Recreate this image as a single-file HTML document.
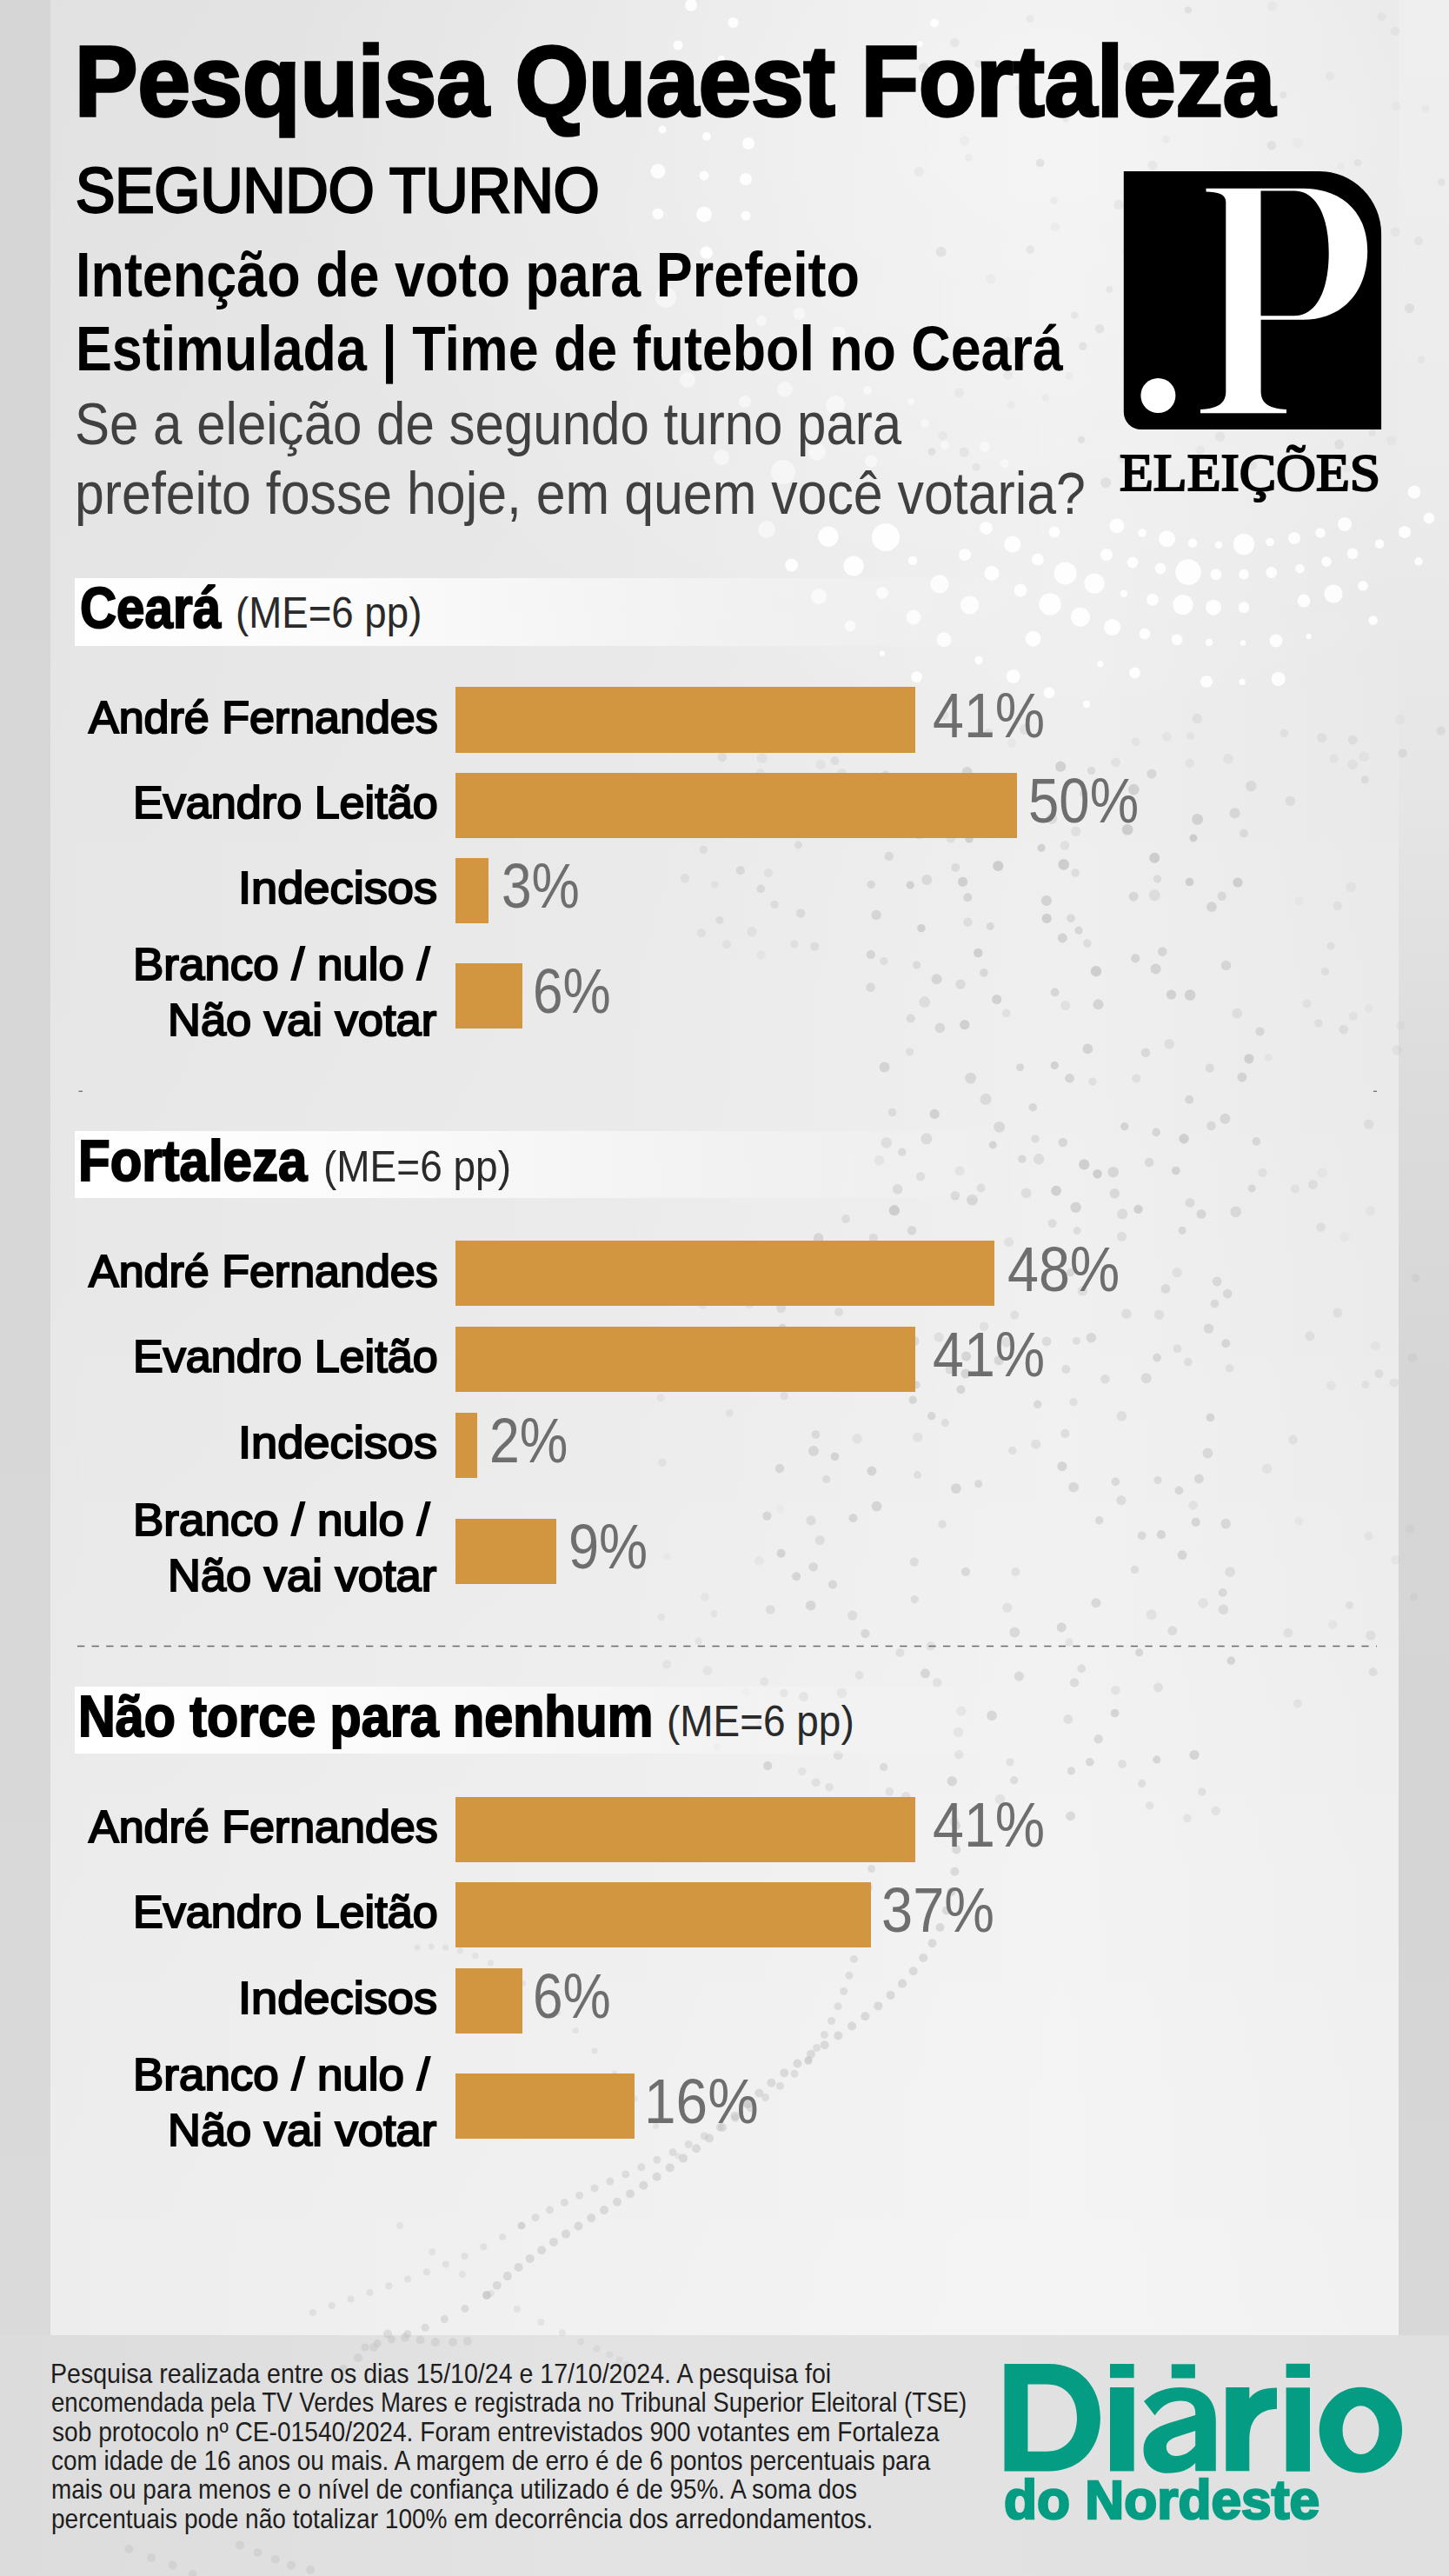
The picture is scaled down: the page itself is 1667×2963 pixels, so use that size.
<!DOCTYPE html>
<html><head><meta charset="utf-8"><style>
*{margin:0;padding:0;box-sizing:border-box}
html,body{width:1667px;height:2963px;overflow:hidden}
body{position:relative;background:#dedede;font-family:"Liberation Sans",sans-serif}
.t{position:absolute;white-space:nowrap;transform-origin:0 0}
.bg-l{position:absolute;left:0;top:0;width:58px;height:2963px;background:linear-gradient(180deg,#d6d6d6 0px,#d7d7d7 1500px,#dadada 2686px)}
.bg-r{position:absolute;left:1609px;top:0;width:58px;height:2963px;background:linear-gradient(180deg,#efefef 0px,#ececec 500px,#e6e6e6 900px,#dcdcdc 1250px,#d6d6d6 1600px,#d5d5d5 2200px,#d8d8d8 2686px)}
.bg-f{position:absolute;left:0;top:2686px;width:1667px;height:277px;background:linear-gradient(90deg,#dcdcdc,#e3e3e3 40%,#e0e0e0)}
.panel{position:absolute;left:58px;top:0;width:1551px;height:2686px;background:linear-gradient(180deg,#e5e5e5 0%,#e9e9e9 30%,#ebebeb 55%,#efefef 80%,#f1f1f1 100%)}
.panel2{position:absolute;left:58px;top:0;width:1551px;height:2686px;background:radial-gradient(ellipse 900px 700px at 1150px 150px,rgba(255,255,255,0.45),rgba(255,255,255,0) 100%),linear-gradient(90deg,rgba(0,0,0,0.015) 0%,rgba(255,255,255,0) 40%,rgba(255,255,255,0.25) 75%,rgba(255,255,255,0) 100%)}
.hbox{position:absolute;left:86px;width:1100px;background:linear-gradient(90deg,#fff 0%,#fbfbfb 30%,rgba(245,245,245,.6) 70%,rgba(240,240,240,0) 100%)}
.abs{position:absolute}
.bar{position:absolute;left:523.5px;background:#d1963f}
</style></head><body>
<div class="bg-l"></div><div class="bg-r"></div><div class="bg-f"></div>
<div class="panel"></div><div class="panel2"></div>
<svg class="abs" width="1667" height="2963" style="left:0;top:0"><g fill="#c4c4c4"><circle cx="1145.7" cy="958.4" r="5.8" fill-opacity="0.38"/><circle cx="1241.1" cy="1070.2" r="4.6" fill-opacity="0.58"/><circle cx="1016.9" cy="1105.5" r="4.6" fill-opacity="0.39"/><circle cx="1191.0" cy="1310.0" r="4.7" fill-opacity="0.45"/><circle cx="1282.3" cy="1372.8" r="5.7" fill-opacity="0.53"/><circle cx="1439.3" cy="904.2" r="6.2" fill-opacity="0.48"/><circle cx="1064.9" cy="941.3" r="5.1" fill-opacity="0.72"/><circle cx="1081.3" cy="1182.4" r="5.8" fill-opacity="0.52"/><circle cx="1246.5" cy="912.7" r="4.6" fill-opacity="0.44"/><circle cx="1306.2" cy="1102.3" r="5.1" fill-opacity="0.61"/><circle cx="1203.9" cy="1035.9" r="6.1" fill-opacity="0.66"/><circle cx="1109.8" cy="1178.7" r="5.6" fill-opacity="0.74"/><circle cx="1328.3" cy="1029.7" r="6.5" fill-opacity="0.40"/><circle cx="1188.2" cy="1273.7" r="4.8" fill-opacity="0.57"/><circle cx="1017.6" cy="1227.5" r="6.0" fill-opacity="0.61"/><circle cx="1394.0" cy="1043.1" r="5.9" fill-opacity="0.62"/><circle cx="1261.0" cy="1117.2" r="6.2" fill-opacity="0.78"/><circle cx="1213.3" cy="1225.4" r="4.6" fill-opacity="0.67"/><circle cx="1291.2" cy="1396.4" r="6.1" fill-opacity="0.48"/><circle cx="1173.6" cy="1227.7" r="4.5" fill-opacity="0.56"/><circle cx="1026.5" cy="1279.5" r="4.8" fill-opacity="0.46"/><circle cx="1175.9" cy="1333.1" r="4.7" fill-opacity="0.55"/><circle cx="1247.2" cy="1339.4" r="6.1" fill-opacity="0.74"/><circle cx="1125.3" cy="1096.0" r="5.2" fill-opacity="0.75"/><circle cx="1431.0" cy="958.5" r="4.9" fill-opacity="0.45"/><circle cx="1105.0" cy="1132.2" r="5.7" fill-opacity="0.47"/><circle cx="1001.8" cy="1097.9" r="5.2" fill-opacity="0.60"/><circle cx="1428.9" cy="1239.1" r="5.5" fill-opacity="0.63"/><circle cx="1304.3" cy="908.1" r="6.3" fill-opacity="0.70"/><circle cx="1393.5" cy="1294.9" r="5.3" fill-opacity="0.53"/><circle cx="1046.6" cy="1209.8" r="4.6" fill-opacity="0.38"/><circle cx="1093.9" cy="964.4" r="5.2" fill-opacity="0.37"/><circle cx="1000.1" cy="958.7" r="4.7" fill-opacity="0.51"/><circle cx="1011.5" cy="1334.7" r="5.7" fill-opacity="0.42"/><circle cx="1113.5" cy="1060.6" r="5.2" fill-opacity="0.41"/><circle cx="1382.0" cy="1396.4" r="5.4" fill-opacity="0.57"/><circle cx="1038.6" cy="933.1" r="5.2" fill-opacity="0.47"/><circle cx="1373.0" cy="963.9" r="4.5" fill-opacity="0.78"/><circle cx="1237.7" cy="956.2" r="5.6" fill-opacity="0.36"/><circle cx="1237.6" cy="1388.8" r="6.2" fill-opacity="0.66"/><circle cx="1075.2" cy="1281.4" r="5.6" fill-opacity="0.70"/><circle cx="1148.3" cy="996.0" r="6.1" fill-opacity="0.79"/><circle cx="1368.2" cy="1264.7" r="5.0" fill-opacity="0.58"/><circle cx="1160.0" cy="895.1" r="4.6" fill-opacity="0.48"/><circle cx="1116.6" cy="1240.1" r="6.4" fill-opacity="0.55"/><circle cx="1421.7" cy="1393.8" r="6.4" fill-opacity="0.51"/><circle cx="1099.2" cy="998.0" r="4.9" fill-opacity="0.44"/><circle cx="1280.8" cy="1348.2" r="6.2" fill-opacity="0.57"/><circle cx="1293.8" cy="1295.8" r="4.7" fill-opacity="0.65"/><circle cx="1409.4" cy="1286.8" r="6.0" fill-opacity="0.57"/><circle cx="1149.6" cy="1296.4" r="6.4" fill-opacity="0.53"/><circle cx="1180.6" cy="1372.3" r="5.9" fill-opacity="0.43"/><circle cx="1057.2" cy="958.6" r="6.3" fill-opacity="0.71"/><circle cx="1065.8" cy="1309.8" r="6.5" fill-opacity="0.65"/><circle cx="1157.7" cy="1165.3" r="4.8" fill-opacity="0.36"/><circle cx="1436.9" cy="1217.8" r="5.6" fill-opacity="0.77"/><circle cx="1195.2" cy="1333.3" r="6.2" fill-opacity="0.44"/><circle cx="1113.3" cy="1032.3" r="5.0" fill-opacity="0.61"/><circle cx="1059.0" cy="1353.2" r="5.2" fill-opacity="0.56"/><circle cx="1262.5" cy="1350.2" r="5.3" fill-opacity="0.76"/><circle cx="1225.7" cy="1156.5" r="5.5" fill-opacity="0.36"/><circle cx="1198.1" cy="975.2" r="4.5" fill-opacity="0.71"/><circle cx="1077.6" cy="1126.2" r="6.0" fill-opacity="0.60"/><circle cx="1146.7" cy="1149.5" r="5.6" fill-opacity="0.70"/><circle cx="1047.7" cy="1171.4" r="5.0" fill-opacity="0.47"/><circle cx="1347.5" cy="1144.0" r="5.6" fill-opacity="0.69"/><circle cx="1410.6" cy="1110.5" r="5.7" fill-opacity="0.58"/><circle cx="1230.5" cy="1240.2" r="5.4" fill-opacity="0.59"/><circle cx="1215.1" cy="1369.6" r="5.9" fill-opacity="0.74"/><circle cx="1424.0" cy="1015.0" r="5.6" fill-opacity="0.77"/><circle cx="1054.7" cy="1109.9" r="4.6" fill-opacity="0.46"/><circle cx="1352.8" cy="1346.5" r="4.8" fill-opacity="0.67"/><circle cx="1297.1" cy="954.3" r="6.3" fill-opacity="0.79"/><circle cx="1098.8" cy="1375.3" r="5.3" fill-opacity="0.57"/><circle cx="1445.4" cy="1312.9" r="4.8" fill-opacity="0.54"/><circle cx="1232.0" cy="1056.3" r="4.9" fill-opacity="0.49"/><circle cx="1325.0" cy="890.1" r="5.6" fill-opacity="0.55"/><circle cx="1008.1" cy="1052.4" r="5.7" fill-opacity="0.58"/><circle cx="1028.9" cy="1392.2" r="6.1" fill-opacity="0.79"/><circle cx="1047.2" cy="1018.1" r="4.6" fill-opacity="0.70"/><circle cx="1121.7" cy="947.4" r="5.3" fill-opacity="0.76"/><circle cx="1368.5" cy="1014.5" r="4.8" fill-opacity="0.76"/><circle cx="1256.8" cy="1244.2" r="4.7" fill-opacity="0.38"/><circle cx="1032.6" cy="1367.9" r="5.8" fill-opacity="0.71"/><circle cx="1037.7" cy="1325.2" r="4.6" fill-opacity="0.74"/><circle cx="1204.2" cy="1056.4" r="5.6" fill-opacity="0.77"/><circle cx="1237.1" cy="1004.0" r="4.7" fill-opacity="0.42"/><circle cx="1022.7" cy="984.9" r="5.1" fill-opacity="0.49"/><circle cx="1225.0" cy="972.5" r="5.2" fill-opacity="0.36"/><circle cx="1112.7" cy="888.0" r="6.0" fill-opacity="0.60"/><circle cx="1420.6" cy="935.3" r="6.1" fill-opacity="0.54"/><circle cx="1222.8" cy="1314.0" r="5.3" fill-opacity="0.58"/><circle cx="1309.5" cy="1390.9" r="5.2" fill-opacity="0.72"/><circle cx="1318.0" cy="1210.7" r="5.3" fill-opacity="0.51"/><circle cx="1024.5" cy="947.5" r="4.6" fill-opacity="0.68"/><circle cx="1115.0" cy="964.9" r="4.7" fill-opacity="0.73"/><circle cx="1391.7" cy="1228.7" r="5.1" fill-opacity="0.46"/><circle cx="1131.9" cy="1118.9" r="4.8" fill-opacity="0.55"/><circle cx="1118.5" cy="1380.1" r="6.4" fill-opacity="0.60"/><circle cx="1139.3" cy="1065.4" r="4.5" fill-opacity="0.52"/><circle cx="1213.6" cy="1141.4" r="4.9" fill-opacity="0.58"/><circle cx="1002.2" cy="1017.4" r="4.7" fill-opacity="0.53"/><circle cx="1018.8" cy="891.7" r="5.1" fill-opacity="0.45"/><circle cx="1263.5" cy="1155.2" r="6.0" fill-opacity="0.65"/><circle cx="1322.2" cy="1337.1" r="5.3" fill-opacity="0.50"/><circle cx="1019.7" cy="1314.4" r="6.3" fill-opacity="0.63"/><circle cx="1330.2" cy="1302.4" r="4.8" fill-opacity="0.59"/><circle cx="1362.1" cy="1309.7" r="5.7" fill-opacity="0.75"/><circle cx="1307.3" cy="1240.5" r="5.0" fill-opacity="0.36"/><circle cx="1059.9" cy="1067.6" r="4.7" fill-opacity="0.73"/><circle cx="1251.3" cy="1206.4" r="5.8" fill-opacity="0.66"/><circle cx="1220.2" cy="881.7" r="6.1" fill-opacity="0.69"/><circle cx="1331.6" cy="1011.1" r="4.6" fill-opacity="0.47"/><circle cx="1328.2" cy="986.7" r="6.0" fill-opacity="0.79"/><circle cx="1222.3" cy="1078.9" r="5.5" fill-opacity="0.66"/><circle cx="1345.1" cy="1200.8" r="5.8" fill-opacity="0.38"/><circle cx="1066.3" cy="1012.0" r="6.0" fill-opacity="0.49"/><circle cx="1255.5" cy="886.5" r="4.6" fill-opacity="0.47"/><circle cx="1304.1" cy="1031.2" r="5.5" fill-opacity="0.56"/><circle cx="1209.9" cy="941.6" r="6.3" fill-opacity="0.44"/><circle cx="1440.2" cy="1366.9" r="4.5" fill-opacity="0.56"/><circle cx="1369.0" cy="1383.4" r="5.4" fill-opacity="0.47"/><circle cx="1063.8" cy="1152.5" r="6.4" fill-opacity="0.41"/><circle cx="1369.1" cy="1144.5" r="6.3" fill-opacity="0.67"/><circle cx="1104.1" cy="1346.8" r="5.5" fill-opacity="0.36"/><circle cx="1001.6" cy="1135.7" r="5.4" fill-opacity="0.49"/><circle cx="1142.2" cy="1316.9" r="4.5" fill-opacity="0.69"/><circle cx="1377.6" cy="942.4" r="6.4" fill-opacity="0.67"/><circle cx="1405.7" cy="1030.7" r="5.2" fill-opacity="0.53"/><circle cx="1449.5" cy="1186.4" r="5.2" fill-opacity="0.54"/><circle cx="1123.8" cy="905.1" r="4.7" fill-opacity="0.73"/><circle cx="1128.5" cy="1366.5" r="5.0" fill-opacity="0.47"/><circle cx="1423.3" cy="1165.6" r="5.9" fill-opacity="0.37"/><circle cx="1329.6" cy="1114.4" r="6.0" fill-opacity="0.64"/><circle cx="1134.0" cy="1264.3" r="6.5" fill-opacity="0.47"/><circle cx="1250.8" cy="1085.1" r="4.8" fill-opacity="0.42"/><circle cx="1223.7" cy="994.4" r="6.3" fill-opacity="0.80"/><circle cx="1086.6" cy="927.2" r="5.2" fill-opacity="0.39"/><circle cx="1107.6" cy="1014.3" r="5.6" fill-opacity="0.75"/><circle cx="1337.3" cy="1094.6" r="5.3" fill-opacity="0.59"/><circle cx="1087.3" cy="1636.7" r="4.6" fill-opacity="0.40"/><circle cx="1412.2" cy="1488.1" r="5.3" fill-opacity="0.52"/><circle cx="1354.6" cy="1551.2" r="4.9" fill-opacity="0.39"/><circle cx="1099.9" cy="1712.1" r="5.9" fill-opacity="0.60"/><circle cx="1360.1" cy="1415.3" r="4.5" fill-opacity="0.55"/><circle cx="1372.6" cy="1731.3" r="5.4" fill-opacity="0.30"/><circle cx="1095.3" cy="2048.8" r="5.7" fill-opacity="0.60"/><circle cx="1414.7" cy="1573.9" r="4.7" fill-opacity="0.35"/><circle cx="1167.3" cy="1877.5" r="5.9" fill-opacity="0.55"/><circle cx="1236.0" cy="1935.4" r="5.2" fill-opacity="0.49"/><circle cx="901.8" cy="1947.6" r="4.8" fill-opacity="0.62"/><circle cx="1235.0" cy="1612.6" r="4.7" fill-opacity="0.39"/><circle cx="1230.0" cy="1889.0" r="4.7" fill-opacity="0.32"/><circle cx="1168.4" cy="1808.0" r="5.1" fill-opacity="0.38"/><circle cx="1210.6" cy="1407.3" r="5.0" fill-opacity="0.46"/><circle cx="1407.4" cy="1851.2" r="5.8" fill-opacity="0.47"/><circle cx="1009.1" cy="1572.9" r="5.9" fill-opacity="0.55"/><circle cx="1049.1" cy="1415.3" r="5.2" fill-opacity="0.54"/><circle cx="1111.0" cy="1580.1" r="5.5" fill-opacity="0.62"/><circle cx="1004.7" cy="1423.9" r="5.0" fill-opacity="0.45"/><circle cx="1255.4" cy="1538.7" r="5.7" fill-opacity="0.56"/><circle cx="1157.7" cy="1543.7" r="6.0" fill-opacity="0.41"/><circle cx="1331.0" cy="1561.6" r="4.8" fill-opacity="0.57"/><circle cx="1042.2" cy="2066.3" r="5.2" fill-opacity="0.37"/><circle cx="1002.8" cy="1691.9" r="5.5" fill-opacity="0.63"/><circle cx="960.5" cy="1675.4" r="4.8" fill-opacity="0.64"/><circle cx="958.1" cy="1436.3" r="4.6" fill-opacity="0.44"/><circle cx="1374.0" cy="2018.5" r="5.6" fill-opacity="0.65"/><circle cx="1392.4" cy="1630.5" r="4.8" fill-opacity="0.63"/><circle cx="1290.5" cy="1422.3" r="5.5" fill-opacity="0.43"/><circle cx="973.1" cy="1402.0" r="4.9" fill-opacity="0.42"/><circle cx="1410.3" cy="1545.2" r="5.0" fill-opacity="0.59"/><circle cx="1332.1" cy="1702.7" r="4.6" fill-opacity="0.47"/><circle cx="986.2" cy="1655.0" r="5.8" fill-opacity="0.31"/><circle cx="1105.9" cy="1968.3" r="5.7" fill-opacity="0.31"/><circle cx="899.2" cy="1443.8" r="5.9" fill-opacity="0.39"/><circle cx="1291.0" cy="2029.0" r="5.0" fill-opacity="0.40"/><circle cx="1406.7" cy="1831.9" r="4.9" fill-opacity="0.55"/><circle cx="1054.1" cy="1592.9" r="4.5" fill-opacity="0.56"/><circle cx="1384.1" cy="1843.8" r="5.9" fill-opacity="0.31"/><circle cx="1008.6" cy="1732.6" r="5.9" fill-opacity="0.63"/><circle cx="1092.6" cy="1575.7" r="5.1" fill-opacity="0.47"/><circle cx="1390.5" cy="1528.1" r="5.7" fill-opacity="0.56"/><circle cx="1332.5" cy="1941.0" r="5.4" fill-opacity="0.41"/><circle cx="1055.8" cy="1653.3" r="5.7" fill-opacity="0.33"/><circle cx="988.5" cy="1927.0" r="4.9" fill-opacity="0.32"/><circle cx="898.6" cy="1786.8" r="5.0" fill-opacity="0.64"/><circle cx="1365.9" cy="2091.5" r="4.9" fill-opacity="0.33"/><circle cx="933.0" cy="1748.9" r="5.6" fill-opacity="0.46"/><circle cx="1221.2" cy="1871.9" r="5.6" fill-opacity="0.60"/><circle cx="1245.4" cy="1484.8" r="5.8" fill-opacity="0.40"/><circle cx="1191.8" cy="1661.1" r="5.6" fill-opacity="0.37"/><circle cx="964.3" cy="2018.9" r="5.4" fill-opacity="0.41"/><circle cx="1097.8" cy="2094.7" r="5.3" fill-opacity="0.38"/><circle cx="1324.6" cy="1857.3" r="6.0" fill-opacity="0.34"/><circle cx="1141.1" cy="1973.4" r="5.8" fill-opacity="0.62"/><circle cx="902.2" cy="1605.6" r="4.7" fill-opacity="0.37"/><circle cx="1415.1" cy="1808.2" r="5.9" fill-opacity="0.43"/><circle cx="1356.4" cy="1714.4" r="4.9" fill-opacity="0.57"/><circle cx="1400.1" cy="1474.0" r="5.4" fill-opacity="0.52"/><circle cx="957.8" cy="1542.8" r="4.9" fill-opacity="0.51"/><circle cx="1238.4" cy="1542.4" r="4.5" fill-opacity="0.41"/><circle cx="1051.7" cy="1542.4" r="5.7" fill-opacity="0.49"/><circle cx="914.8" cy="1471.0" r="5.1" fill-opacity="0.49"/><circle cx="1231.6" cy="1463.8" r="4.7" fill-opacity="0.54"/><circle cx="1105.4" cy="1598.3" r="5.0" fill-opacity="0.63"/><circle cx="1051.8" cy="1796.6" r="5.0" fill-opacity="0.45"/><circle cx="1080.1" cy="1538.0" r="5.6" fill-opacity="0.37"/><circle cx="883.2" cy="2031.1" r="5.1" fill-opacity="0.59"/><circle cx="1103.4" cy="2018.0" r="5.2" fill-opacity="0.36"/><circle cx="1232.4" cy="2036.9" r="4.6" fill-opacity="0.52"/><circle cx="1084.0" cy="1753.1" r="4.7" fill-opacity="0.40"/><circle cx="1166.6" cy="2047.8" r="4.7" fill-opacity="0.47"/><circle cx="1322.6" cy="2076.8" r="4.8" fill-opacity="0.34"/><circle cx="1398.7" cy="2082.9" r="5.2" fill-opacity="0.32"/><circle cx="1389.4" cy="1671.5" r="5.9" fill-opacity="0.52"/><circle cx="1333.5" cy="1512.2" r="5.7" fill-opacity="0.38"/><circle cx="1102.5" cy="1992.4" r="5.7" fill-opacity="0.36"/><circle cx="1164.8" cy="1668.5" r="4.7" fill-opacity="0.39"/><circle cx="1341.0" cy="1482.4" r="5.4" fill-opacity="0.49"/><circle cx="1111.0" cy="1807.8" r="5.1" fill-opacity="0.53"/><circle cx="1125.7" cy="1706.8" r="4.5" fill-opacity="0.52"/><circle cx="1149.2" cy="1564.7" r="5.6" fill-opacity="0.57"/><circle cx="1132.1" cy="1525.7" r="5.2" fill-opacity="0.34"/><circle cx="950.7" cy="1701.4" r="4.6" fill-opacity="0.45"/><circle cx="1160.6" cy="1428.5" r="5.5" fill-opacity="0.33"/><circle cx="1283.4" cy="1944.3" r="5.3" fill-opacity="0.32"/><circle cx="1282.6" cy="1970.5" r="4.8" fill-opacity="0.64"/><circle cx="1150.5" cy="2069.6" r="5.9" fill-opacity="0.36"/><circle cx="1313.6" cy="2051.4" r="4.6" fill-opacity="0.42"/><circle cx="1295.9" cy="1511.1" r="5.8" fill-opacity="0.40"/><circle cx="994.6" cy="1584.0" r="5.3" fill-opacity="0.41"/><circle cx="900.3" cy="1527.5" r="4.7" fill-opacity="0.63"/><circle cx="1253.8" cy="2026.8" r="4.8" fill-opacity="0.57"/><circle cx="943.3" cy="1771.5" r="5.5" fill-opacity="0.43"/><circle cx="1360.1" cy="1788.6" r="5.4" fill-opacity="0.61"/><circle cx="937.5" cy="2095.1" r="5.4" fill-opacity="0.44"/><circle cx="1318.7" cy="1585.3" r="6.0" fill-opacity="0.50"/><circle cx="1078.1" cy="1935.2" r="5.2" fill-opacity="0.36"/><circle cx="1231.6" cy="2088.8" r="5.4" fill-opacity="0.53"/><circle cx="898.6" cy="1504.6" r="5.4" fill-opacity="0.45"/><circle cx="1162.0" cy="2026.9" r="4.7" fill-opacity="0.38"/><circle cx="1239.2" cy="1415.6" r="4.5" fill-opacity="0.42"/><circle cx="938.5" cy="1650.0" r="4.8" fill-opacity="0.50"/><circle cx="1204.0" cy="1542.9" r="5.4" fill-opacity="0.47"/><circle cx="954.1" cy="2055.6" r="4.9" fill-opacity="0.35"/><circle cx="932.7" cy="1846.7" r="5.8" fill-opacity="0.57"/><circle cx="886.3" cy="1851.5" r="5.3" fill-opacity="0.42"/><circle cx="1235.1" cy="1710.6" r="5.9" fill-opacity="0.56"/><circle cx="1016.7" cy="2032.5" r="4.6" fill-opacity="0.49"/><circle cx="1397.5" cy="1499.6" r="4.8" fill-opacity="0.51"/><circle cx="1158.8" cy="1849.1" r="5.7" fill-opacity="0.36"/><circle cx="1050.2" cy="1610.2" r="4.6" fill-opacity="0.61"/><circle cx="1310.6" cy="1900.8" r="4.5" fill-opacity="0.60"/><circle cx="1289.9" cy="1725.7" r="5.6" fill-opacity="0.46"/><circle cx="1004.3" cy="1473.7" r="4.8" fill-opacity="0.31"/><circle cx="1064.5" cy="1924.8" r="5.5" fill-opacity="0.60"/><circle cx="1271.4" cy="1586.2" r="5.3" fill-opacity="0.45"/><circle cx="1313.6" cy="1766.3" r="4.9" fill-opacity="0.52"/><circle cx="1023.2" cy="1565.3" r="5.6" fill-opacity="0.63"/><circle cx="1290.4" cy="1628.8" r="5.8" fill-opacity="0.41"/><circle cx="1263.7" cy="2000.3" r="5.2" fill-opacity="0.55"/><circle cx="1193.7" cy="1615.4" r="4.8" fill-opacity="0.52"/><circle cx="922.8" cy="2037.6" r="4.7" fill-opacity="0.31"/><circle cx="938.7" cy="2050.3" r="5.0" fill-opacity="0.35"/><circle cx="1260.9" cy="1843.7" r="5.5" fill-opacity="0.56"/><circle cx="916.2" cy="1813.3" r="5.0" fill-opacity="0.59"/><circle cx="1330.8" cy="2023.9" r="4.6" fill-opacity="0.60"/><circle cx="1382.9" cy="2061.0" r="4.7" fill-opacity="0.37"/><circle cx="941.6" cy="1424.1" r="5.8" fill-opacity="0.58"/><circle cx="1228.8" cy="1977.5" r="5.4" fill-opacity="0.40"/><circle cx="934.9" cy="1468.5" r="5.6" fill-opacity="0.37"/><circle cx="1055.5" cy="1696.6" r="4.5" fill-opacity="0.39"/><circle cx="1035.4" cy="1901.0" r="5.1" fill-opacity="0.41"/><circle cx="1410.2" cy="1752.6" r="5.8" fill-opacity="0.52"/><circle cx="897.0" cy="1689.0" r="5.2" fill-opacity="0.57"/><circle cx="1070.7" cy="1893.3" r="5.3" fill-opacity="0.38"/><circle cx="1354.2" cy="1463.6" r="5.7" fill-opacity="0.36"/><circle cx="880.7" cy="1541.4" r="5.6" fill-opacity="0.64"/><circle cx="882.4" cy="1743.6" r="5.2" fill-opacity="0.58"/><circle cx="981.5" cy="1746.2" r="5.0" fill-opacity="0.59"/><circle cx="1023.3" cy="2060.7" r="4.9" fill-opacity="0.38"/><circle cx="1264.7" cy="1748.8" r="4.7" fill-opacity="0.52"/><circle cx="924.5" cy="1951.5" r="5.5" fill-opacity="0.58"/><circle cx="1225.4" cy="1648.9" r="5.1" fill-opacity="0.44"/><circle cx="1375.7" cy="1750.8" r="5.1" fill-opacity="0.61"/><circle cx="1172.3" cy="1928.1" r="5.6" fill-opacity="0.53"/><circle cx="1071.7" cy="1628.7" r="4.7" fill-opacity="0.60"/><circle cx="1244.2" cy="1919.4" r="4.8" fill-opacity="0.45"/><circle cx="1305.4" cy="1805.4" r="4.7" fill-opacity="0.46"/><circle cx="1366.8" cy="1566.6" r="4.8" fill-opacity="0.41"/><circle cx="965.0" cy="1509.2" r="4.9" fill-opacity="0.41"/><circle cx="1167.2" cy="1512.6" r="5.0" fill-opacity="0.37"/><circle cx="1416.3" cy="1910.1" r="4.7" fill-opacity="0.64"/><circle cx="935.9" cy="1669.0" r="6.0" fill-opacity="0.58"/><circle cx="1283.3" cy="1704.4" r="4.8" fill-opacity="0.52"/><circle cx="938.8" cy="1544.5" r="5.1" fill-opacity="0.31"/><circle cx="958.0" cy="1822.6" r="5.1" fill-opacity="0.56"/><circle cx="1379.4" cy="1701.0" r="5.4" fill-opacity="0.56"/><circle cx="1111.6" cy="1560.0" r="5.6" fill-opacity="0.61"/><circle cx="1348.8" cy="1875.7" r="5.5" fill-opacity="0.46"/><circle cx="1052.2" cy="1839.8" r="4.6" fill-opacity="0.45"/><circle cx="1226.3" cy="1575.0" r="5.1" fill-opacity="0.46"/><circle cx="1221.9" cy="1686.5" r="5.5" fill-opacity="0.63"/><circle cx="980.7" cy="1858.1" r="5.7" fill-opacity="0.44"/><circle cx="968.5" cy="1947.3" r="5.9" fill-opacity="0.48"/><circle cx="935.6" cy="1802.2" r="5.3" fill-opacity="0.55"/><circle cx="1335.9" cy="1765.2" r="5.1" fill-opacity="0.63"/><circle cx="995.5" cy="1879.1" r="5.1" fill-opacity="0.57"/><circle cx="1075.5" cy="1439.6" r="4.9" fill-opacity="0.44"/><circle cx="1452.5" cy="1348.8" r="5.1" fill-opacity="0.32"/><circle cx="1516.9" cy="1177.0" r="4.8" fill-opacity="0.34"/><circle cx="1628.6" cy="1470.3" r="4.8" fill-opacity="0.35"/><circle cx="1524.5" cy="1117.5" r="4.7" fill-opacity="0.34"/><circle cx="1603.8" cy="1590.4" r="5.2" fill-opacity="0.29"/><circle cx="1492.9" cy="1959.5" r="5.0" fill-opacity="0.31"/><circle cx="1605.6" cy="1794.1" r="5.2" fill-opacity="0.22"/><circle cx="1554.2" cy="1020.2" r="5.8" fill-opacity="0.24"/><circle cx="1611.6" cy="1179.5" r="5.1" fill-opacity="0.21"/><circle cx="1531.0" cy="1088.2" r="4.5" fill-opacity="0.33"/><circle cx="1503.4" cy="1154.4" r="5.0" fill-opacity="0.27"/><circle cx="1531.4" cy="1593.8" r="5.5" fill-opacity="0.24"/><circle cx="1626.5" cy="1837.0" r="4.6" fill-opacity="0.36"/><circle cx="1622.1" cy="1758.1" r="4.7" fill-opacity="0.36"/><circle cx="1570.3" cy="896.8" r="4.5" fill-opacity="0.39"/><circle cx="1574.6" cy="1160.0" r="4.7" fill-opacity="0.19"/><circle cx="1494.4" cy="1749.5" r="5.0" fill-opacity="0.19"/><circle cx="1481.9" cy="1878.1" r="5.4" fill-opacity="0.35"/><circle cx="1577.0" cy="1881.2" r="5.7" fill-opacity="0.36"/><circle cx="1487.5" cy="1655.9" r="5.3" fill-opacity="0.34"/><circle cx="1533.3" cy="1868.6" r="5.3" fill-opacity="0.22"/><circle cx="1494.5" cy="1036.1" r="5.2" fill-opacity="0.16"/><circle cx="1538.7" cy="1041.8" r="5.2" fill-opacity="0.27"/><circle cx="1552.5" cy="1846.4" r="4.5" fill-opacity="0.36"/><circle cx="1538.9" cy="1510.1" r="5.5" fill-opacity="0.36"/><circle cx="1521.2" cy="1349.1" r="5.9" fill-opacity="0.17"/><circle cx="1571.0" cy="1592.5" r="4.5" fill-opacity="0.30"/><circle cx="1579.7" cy="1923.3" r="5.0" fill-opacity="0.40"/><circle cx="1547.0" cy="1422.8" r="5.8" fill-opacity="0.16"/><circle cx="1586.5" cy="1580.3" r="5.0" fill-opacity="0.37"/><circle cx="1519.6" cy="1411.5" r="5.3" fill-opacity="0.34"/><circle cx="1490.0" cy="1367.4" r="5.1" fill-opacity="0.29"/><circle cx="1607.1" cy="1208.0" r="5.7" fill-opacity="0.25"/><circle cx="1545.7" cy="1184.3" r="5.3" fill-opacity="0.39"/><circle cx="1574.4" cy="1767.0" r="5.0" fill-opacity="0.23"/><circle cx="1506.9" cy="1536.8" r="5.5" fill-opacity="0.35"/><circle cx="1457.6" cy="1689.4" r="5.8" fill-opacity="0.29"/><circle cx="1459.4" cy="1216.5" r="4.5" fill-opacity="0.20"/><circle cx="1625.1" cy="1561.7" r="5.5" fill-opacity="0.35"/><circle cx="1582.3" cy="1547.9" r="5.5" fill-opacity="0.20"/><circle cx="1576.7" cy="1392.8" r="5.6" fill-opacity="0.18"/><circle cx="1484.4" cy="921.4" r="5.7" fill-opacity="0.38"/><circle cx="1574.6" cy="1293.1" r="5.7" fill-opacity="0.35"/><circle cx="1556.8" cy="1169.0" r="5.0" fill-opacity="0.26"/><circle cx="1510.5" cy="1362.4" r="5.5" fill-opacity="0.38"/><circle cx="767.6" cy="1790.5" r="4.1" fill-opacity="0.14"/><circle cx="873.4" cy="1795.2" r="5.4" fill-opacity="0.20"/><circle cx="762.0" cy="1682.3" r="4.9" fill-opacity="0.29"/><circle cx="897.3" cy="1735.3" r="4.6" fill-opacity="0.14"/><circle cx="850.2" cy="1577.4" r="4.2" fill-opacity="0.12"/><circle cx="760.7" cy="1860.3" r="4.2" fill-opacity="0.29"/><circle cx="772.3" cy="1971.7" r="4.2" fill-opacity="0.12"/><circle cx="860.7" cy="1595.4" r="5.1" fill-opacity="0.15"/><circle cx="767.0" cy="1914.4" r="5.1" fill-opacity="0.27"/><circle cx="862.2" cy="1500.6" r="4.9" fill-opacity="0.25"/><circle cx="824.5" cy="2009.4" r="4.4" fill-opacity="0.29"/><circle cx="860.4" cy="1456.8" r="4.0" fill-opacity="0.24"/><circle cx="803.5" cy="1887.7" r="4.2" fill-opacity="0.27"/><circle cx="828.1" cy="1485.9" r="4.6" fill-opacity="0.22"/><circle cx="821.4" cy="1856.1" r="4.2" fill-opacity="0.26"/><circle cx="810.9" cy="1836.9" r="4.9" fill-opacity="0.20"/><circle cx="814.0" cy="1921.7" r="5.4" fill-opacity="0.26"/><circle cx="839.4" cy="1625.4" r="4.1" fill-opacity="0.30"/><circle cx="858.5" cy="1946.4" r="4.5" fill-opacity="0.23"/><circle cx="820.0" cy="1982.9" r="4.6" fill-opacity="0.24"/><circle cx="844.2" cy="1987.7" r="5.2" fill-opacity="0.17"/><circle cx="760.2" cy="1607.8" r="4.6" fill-opacity="0.23"/><circle cx="874.2" cy="1982.5" r="4.1" fill-opacity="0.27"/><circle cx="879.2" cy="1934.2" r="5.0" fill-opacity="0.28"/><circle cx="808.6" cy="1501.0" r="4.8" fill-opacity="0.26"/><circle cx="1172.3" cy="420.1" r="5.9" fill-opacity="0.18"/><circle cx="1420.2" cy="379.5" r="4.9" fill-opacity="0.17"/><circle cx="1205.4" cy="420.6" r="5.6" fill-opacity="0.24"/><circle cx="1103.5" cy="451.7" r="5.5" fill-opacity="0.18"/><circle cx="1403.6" cy="502.3" r="5.8" fill-opacity="0.26"/><circle cx="1340.7" cy="330.0" r="4.4" fill-opacity="0.17"/><circle cx="1160.2" cy="392.6" r="4.7" fill-opacity="0.27"/><circle cx="1295.5" cy="289.6" r="4.3" fill-opacity="0.13"/><circle cx="1658.3" cy="209.5" r="4.2" fill-opacity="0.28"/><circle cx="1530.3" cy="87.4" r="5.2" fill-opacity="0.21"/><circle cx="1366.9" cy="11.5" r="4.1" fill-opacity="0.38"/><circle cx="1578.3" cy="272.3" r="5.1" fill-opacity="0.19"/><circle cx="1525.3" cy="238.5" r="5.9" fill-opacity="0.32"/><circle cx="1549.5" cy="539.5" r="4.5" fill-opacity="0.13"/><circle cx="1172.6" cy="101.2" r="4.2" fill-opacity="0.13"/><circle cx="1390.0" cy="487.6" r="4.9" fill-opacity="0.37"/><circle cx="1605.1" cy="35.9" r="5.2" fill-opacity="0.22"/><circle cx="1123.1" cy="537.2" r="4.5" fill-opacity="0.27"/><circle cx="1440.8" cy="535.6" r="5.3" fill-opacity="0.22"/><circle cx="1323.5" cy="89.4" r="5.9" fill-opacity="0.38"/><circle cx="1185.3" cy="21.6" r="4.5" fill-opacity="0.21"/><circle cx="1600.7" cy="506.6" r="5.7" fill-opacity="0.13"/><circle cx="1529.7" cy="397.4" r="5.3" fill-opacity="0.38"/><circle cx="1084.0" cy="81.1" r="5.5" fill-opacity="0.36"/><circle cx="1462.9" cy="167.3" r="5.2" fill-opacity="0.32"/><circle cx="1114.3" cy="181.4" r="4.5" fill-opacity="0.15"/><circle cx="1343.6" cy="94.4" r="4.5" fill-opacity="0.16"/><circle cx="1463.4" cy="7.1" r="5.4" fill-opacity="0.17"/><circle cx="1072.0" cy="519.5" r="4.4" fill-opacity="0.36"/><circle cx="1578.7" cy="497.7" r="4.3" fill-opacity="0.24"/><circle cx="1109.2" cy="520.1" r="5.7" fill-opacity="0.28"/><circle cx="1325.9" cy="190.3" r="5.6" fill-opacity="0.24"/><circle cx="1433.2" cy="80.0" r="4.4" fill-opacity="0.13"/><circle cx="1485.4" cy="309.9" r="4.3" fill-opacity="0.35"/><circle cx="1212.5" cy="230.6" r="4.3" fill-opacity="0.19"/><circle cx="1562.1" cy="187.3" r="4.3" fill-opacity="0.25"/><circle cx="1244.0" cy="505.8" r="4.2" fill-opacity="0.37"/><circle cx="1084.7" cy="501.2" r="5.3" fill-opacity="0.17"/><circle cx="1341.2" cy="160.3" r="4.5" fill-opacity="0.17"/><circle cx="1272.2" cy="555.0" r="6.0" fill-opacity="0.36"/><circle cx="1109.5" cy="162.1" r="5.8" fill-opacity="0.13"/><circle cx="1493.1" cy="164.4" r="6.0" fill-opacity="0.12"/><circle cx="1542.3" cy="190.9" r="4.3" fill-opacity="0.12"/><circle cx="1557.7" cy="294.9" r="4.4" fill-opacity="0.23"/><circle cx="1606.3" cy="122.2" r="5.1" fill-opacity="0.16"/><circle cx="1159.9" cy="431.4" r="5.4" fill-opacity="0.17"/><circle cx="1098.4" cy="49.0" r="5.2" fill-opacity="0.25"/><circle cx="1217.1" cy="115.4" r="5.2" fill-opacity="0.30"/><circle cx="1545.1" cy="326.4" r="4.4" fill-opacity="0.14"/><circle cx="1497.0" cy="228.5" r="5.4" fill-opacity="0.13"/><circle cx="1563.6" cy="484.1" r="5.0" fill-opacity="0.12"/><circle cx="1605.2" cy="266.9" r="5.7" fill-opacity="0.19"/><circle cx="1163.5" cy="465.7" r="4.7" fill-opacity="0.16"/><circle cx="1276.4" cy="333.1" r="4.0" fill-opacity="0.26"/><circle cx="1321.9" cy="288.8" r="4.2" fill-opacity="0.31"/><circle cx="1245.8" cy="398.3" r="4.8" fill-opacity="0.32"/><circle cx="1632.0" cy="277.1" r="5.0" fill-opacity="0.26"/><circle cx="1640.1" cy="125.3" r="4.4" fill-opacity="0.15"/><circle cx="1202.8" cy="457.6" r="4.1" fill-opacity="0.15"/><circle cx="1476.4" cy="109.2" r="4.0" fill-opacity="0.28"/><circle cx="1401.7" cy="292.8" r="5.4" fill-opacity="0.15"/><circle cx="1580.4" cy="401.6" r="4.1" fill-opacity="0.15"/><circle cx="1351.1" cy="280.4" r="4.6" fill-opacity="0.15"/><circle cx="1297.4" cy="76.7" r="5.2" fill-opacity="0.34"/><circle cx="1139.8" cy="320.8" r="5.5" fill-opacity="0.16"/><circle cx="1287.1" cy="235.5" r="5.7" fill-opacity="0.26"/><circle cx="1291.3" cy="527.1" r="5.6" fill-opacity="0.21"/><circle cx="1196.6" cy="187.6" r="4.9" fill-opacity="0.38"/><circle cx="1540.7" cy="511.2" r="5.6" fill-opacity="0.34"/><circle cx="1082.7" cy="289.7" r="5.9" fill-opacity="0.36"/><circle cx="1435.9" cy="204.1" r="5.1" fill-opacity="0.14"/><circle cx="1062.7" cy="78.1" r="5.9" fill-opacity="0.32"/><circle cx="1621.5" cy="354.6" r="5.6" fill-opacity="0.35"/><circle cx="1589.6" cy="19.2" r="5.3" fill-opacity="0.19"/><circle cx="1380.8" cy="517.7" r="5.2" fill-opacity="0.19"/><circle cx="1367.4" cy="242.9" r="5.9" fill-opacity="0.19"/><circle cx="1236.3" cy="362.6" r="4.2" fill-opacity="0.27"/><circle cx="1213.7" cy="261.2" r="5.1" fill-opacity="0.16"/><circle cx="1125.6" cy="73.6" r="4.6" fill-opacity="0.23"/><circle cx="1225.9" cy="136.3" r="4.2" fill-opacity="0.26"/><circle cx="1562.2" cy="341.6" r="5.1" fill-opacity="0.29"/><circle cx="1331.1" cy="306.9" r="5.2" fill-opacity="0.24"/><circle cx="1185.2" cy="287.0" r="4.8" fill-opacity="0.27"/><circle cx="1057.2" cy="197.5" r="5.7" fill-opacity="0.18"/><circle cx="1389.6" cy="275.2" r="4.6" fill-opacity="0.38"/><circle cx="1230.3" cy="432.4" r="4.3" fill-opacity="0.14"/><circle cx="1581.5" cy="246.4" r="4.1" fill-opacity="0.22"/><circle cx="1318.3" cy="411.8" r="4.2" fill-opacity="0.18"/><circle cx="1635.2" cy="413.6" r="4.3" fill-opacity="0.21"/><circle cx="1265.0" cy="378.2" r="5.2" fill-opacity="0.34"/><circle cx="1556.3" cy="851.1" r="5.5" fill-opacity="0.34"/><circle cx="1520.6" cy="848.5" r="5.6" fill-opacity="0.33"/><circle cx="1610.5" cy="827.6" r="5.7" fill-opacity="0.15"/><circle cx="1368.8" cy="877.8" r="5.1" fill-opacity="0.25"/><circle cx="1534.5" cy="872.4" r="5.2" fill-opacity="0.24"/><circle cx="1342.3" cy="847.5" r="5.4" fill-opacity="0.22"/><circle cx="1306.6" cy="853.3" r="4.8" fill-opacity="0.23"/><circle cx="1369.7" cy="846.6" r="4.4" fill-opacity="0.23"/><circle cx="1164.1" cy="854.5" r="5.2" fill-opacity="0.17"/><circle cx="1569.2" cy="870.3" r="5.9" fill-opacity="0.20"/><circle cx="1086.2" cy="822.8" r="5.1" fill-opacity="0.27"/><circle cx="1613.8" cy="866.4" r="5.1" fill-opacity="0.40"/><circle cx="1477.4" cy="843.4" r="4.7" fill-opacity="0.30"/><circle cx="1283.6" cy="876.9" r="5.4" fill-opacity="0.28"/><circle cx="1137.4" cy="842.5" r="4.8" fill-opacity="0.29"/><circle cx="1413.0" cy="872.8" r="5.9" fill-opacity="0.27"/><circle cx="1657.8" cy="840.6" r="5.1" fill-opacity="0.35"/><circle cx="1179.0" cy="839.1" r="6.0" fill-opacity="0.36"/><circle cx="1377.3" cy="826.6" r="5.8" fill-opacity="0.32"/><circle cx="1555.9" cy="879.4" r="5.8" fill-opacity="0.26"/><circle cx="822.2" cy="901.2" r="5.0" fill-opacity="0.35"/><circle cx="830.8" cy="871.1" r="5.3" fill-opacity="0.38"/><circle cx="875.4" cy="1098.2" r="5.3" fill-opacity="0.21"/><circle cx="891.1" cy="1040.5" r="4.6" fill-opacity="0.41"/><circle cx="781.1" cy="905.2" r="5.7" fill-opacity="0.38"/><circle cx="960.4" cy="875.1" r="5.0" fill-opacity="0.37"/><circle cx="851.8" cy="1001.1" r="5.1" fill-opacity="0.50"/><circle cx="935.1" cy="935.1" r="4.2" fill-opacity="0.25"/><circle cx="985.1" cy="849.9" r="4.2" fill-opacity="0.25"/><circle cx="921.1" cy="1050.5" r="5.2" fill-opacity="0.44"/><circle cx="796.8" cy="823.5" r="5.5" fill-opacity="0.30"/><circle cx="973.2" cy="919.1" r="4.3" fill-opacity="0.28"/><circle cx="806.9" cy="1073.1" r="5.2" fill-opacity="0.30"/><circle cx="901.5" cy="928.0" r="4.1" fill-opacity="0.47"/><circle cx="937.3" cy="1088.7" r="4.9" fill-opacity="0.39"/><circle cx="847.3" cy="832.3" r="5.9" fill-opacity="0.46"/><circle cx="865.0" cy="1071.7" r="5.6" fill-opacity="0.29"/><circle cx="913.8" cy="1085.9" r="4.5" fill-opacity="0.32"/><circle cx="876.8" cy="872.2" r="5.9" fill-opacity="0.29"/><circle cx="931.6" cy="852.2" r="5.1" fill-opacity="0.32"/><circle cx="888.9" cy="838.3" r="4.2" fill-opacity="0.45"/><circle cx="874.8" cy="888.6" r="4.4" fill-opacity="0.29"/><circle cx="822.1" cy="1017.6" r="4.2" fill-opacity="0.28"/><circle cx="1005.5" cy="855.8" r="4.9" fill-opacity="0.45"/><circle cx="875.3" cy="1022.3" r="4.8" fill-opacity="0.49"/><circle cx="836.2" cy="1086.3" r="5.0" fill-opacity="0.27"/><circle cx="902.2" cy="856.7" r="5.4" fill-opacity="0.28"/><circle cx="944.2" cy="879.5" r="5.7" fill-opacity="0.24"/><circle cx="918.5" cy="971.9" r="4.5" fill-opacity="0.43"/><circle cx="883.9" cy="1004.1" r="5.1" fill-opacity="0.29"/><circle cx="827.8" cy="1058.3" r="4.6" fill-opacity="0.40"/><circle cx="809.4" cy="977.4" r="4.7" fill-opacity="0.35"/><circle cx="856.2" cy="932.9" r="5.8" fill-opacity="0.43"/><circle cx="788.0" cy="1010.3" r="5.3" fill-opacity="0.31"/><circle cx="968.8" cy="889.6" r="5.7" fill-opacity="0.31"/><circle cx="1100.0" cy="2100.0" r="5.0" fill-opacity="0.55"/><circle cx="1100.3" cy="2127.4" r="5.0" fill-opacity="0.55"/><circle cx="1098.4" cy="2152.7" r="5.0" fill-opacity="0.55"/><circle cx="1094.6" cy="2176.0" r="5.0" fill-opacity="0.55"/><circle cx="1088.9" cy="2197.4" r="5.0" fill-opacity="0.55"/><circle cx="1081.5" cy="2217.0" r="5.0" fill-opacity="0.55"/><circle cx="1072.5" cy="2235.2" r="5.0" fill-opacity="0.55"/><circle cx="1062.2" cy="2251.9" r="5.0" fill-opacity="0.55"/><circle cx="1050.7" cy="2267.3" r="5.0" fill-opacity="0.55"/><circle cx="1038.1" cy="2281.6" r="5.0" fill-opacity="0.55"/><circle cx="1024.6" cy="2294.9" r="5.0" fill-opacity="0.55"/><circle cx="1010.3" cy="2307.4" r="5.0" fill-opacity="0.55"/><circle cx="995.4" cy="2319.2" r="5.0" fill-opacity="0.55"/><circle cx="980.1" cy="2330.5" r="5.0" fill-opacity="0.55"/><circle cx="964.4" cy="2341.5" r="5.0" fill-opacity="0.55"/><circle cx="948.7" cy="2352.2" r="5.0" fill-opacity="0.55"/><circle cx="933.0" cy="2362.8" r="5.0" fill-opacity="0.55"/><circle cx="917.4" cy="2373.5" r="5.0" fill-opacity="0.55"/><circle cx="902.2" cy="2384.4" r="5.0" fill-opacity="0.55"/><circle cx="887.4" cy="2395.7" r="5.0" fill-opacity="0.55"/><circle cx="873.3" cy="2407.5" r="5.0" fill-opacity="0.55"/><circle cx="860.0" cy="2420.0" r="5.0" fill-opacity="0.55"/><circle cx="1010.0" cy="2080.0" r="4.5" fill-opacity="0.45"/><circle cx="1007.9" cy="2103.7" r="4.5" fill-opacity="0.45"/><circle cx="1005.4" cy="2126.9" r="4.5" fill-opacity="0.45"/><circle cx="1002.6" cy="2149.5" r="4.5" fill-opacity="0.45"/><circle cx="999.5" cy="2171.5" r="4.5" fill-opacity="0.45"/><circle cx="995.9" cy="2193.0" r="4.5" fill-opacity="0.45"/><circle cx="991.9" cy="2213.8" r="4.5" fill-opacity="0.45"/><circle cx="987.4" cy="2233.9" r="4.5" fill-opacity="0.45"/><circle cx="982.4" cy="2253.4" r="4.5" fill-opacity="0.45"/><circle cx="976.9" cy="2272.2" r="4.5" fill-opacity="0.45"/><circle cx="970.7" cy="2290.4" r="4.5" fill-opacity="0.45"/><circle cx="964.0" cy="2307.8" r="4.5" fill-opacity="0.45"/><circle cx="956.6" cy="2324.5" r="4.5" fill-opacity="0.45"/><circle cx="948.4" cy="2340.4" r="4.5" fill-opacity="0.45"/><circle cx="939.6" cy="2355.6" r="4.5" fill-opacity="0.45"/><circle cx="930.0" cy="2370.0" r="4.5" fill-opacity="0.45"/><circle cx="860.0" cy="2420.0" r="5.0" fill-opacity="0.55"/><circle cx="845.6" cy="2433.9" r="5.0" fill-opacity="0.55"/><circle cx="830.9" cy="2447.0" r="5.0" fill-opacity="0.55"/><circle cx="816.1" cy="2459.5" r="5.0" fill-opacity="0.55"/><circle cx="801.1" cy="2471.3" r="5.0" fill-opacity="0.55"/><circle cx="786.0" cy="2482.6" r="5.0" fill-opacity="0.55"/><circle cx="770.8" cy="2493.4" r="5.0" fill-opacity="0.55"/><circle cx="755.6" cy="2503.7" r="5.0" fill-opacity="0.55"/><circle cx="740.3" cy="2513.7" r="5.0" fill-opacity="0.55"/><circle cx="725.1" cy="2523.4" r="5.0" fill-opacity="0.55"/><circle cx="710.0" cy="2532.8" r="5.0" fill-opacity="0.55"/><circle cx="695.0" cy="2542.1" r="5.0" fill-opacity="0.55"/><circle cx="680.2" cy="2551.3" r="5.0" fill-opacity="0.55"/><circle cx="665.5" cy="2560.5" r="5.0" fill-opacity="0.55"/><circle cx="651.1" cy="2569.6" r="5.0" fill-opacity="0.55"/><circle cx="637.0" cy="2578.9" r="5.0" fill-opacity="0.55"/><circle cx="623.1" cy="2588.3" r="5.0" fill-opacity="0.55"/><circle cx="609.7" cy="2597.9" r="5.0" fill-opacity="0.55"/><circle cx="596.6" cy="2607.9" r="5.0" fill-opacity="0.55"/><circle cx="583.9" cy="2618.1" r="5.0" fill-opacity="0.55"/><circle cx="571.7" cy="2628.8" r="5.0" fill-opacity="0.55"/><circle cx="560.0" cy="2640.0" r="5.0" fill-opacity="0.55"/><circle cx="930.0" cy="2370.0" r="4.5" fill-opacity="0.45"/><circle cx="914.0" cy="2385.2" r="4.5" fill-opacity="0.45"/><circle cx="897.5" cy="2399.4" r="4.5" fill-opacity="0.45"/><circle cx="880.6" cy="2412.5" r="4.5" fill-opacity="0.45"/><circle cx="863.4" cy="2424.8" r="4.5" fill-opacity="0.45"/><circle cx="845.9" cy="2436.2" r="4.5" fill-opacity="0.45"/><circle cx="828.2" cy="2446.9" r="4.5" fill-opacity="0.45"/><circle cx="810.3" cy="2457.0" r="4.5" fill-opacity="0.45"/><circle cx="792.2" cy="2466.6" r="4.5" fill-opacity="0.45"/><circle cx="774.1" cy="2475.6" r="4.5" fill-opacity="0.45"/><circle cx="755.9" cy="2484.3" r="4.5" fill-opacity="0.45"/><circle cx="737.8" cy="2492.7" r="4.5" fill-opacity="0.45"/><circle cx="719.7" cy="2500.9" r="4.5" fill-opacity="0.45"/><circle cx="701.8" cy="2509.0" r="4.5" fill-opacity="0.45"/><circle cx="684.1" cy="2517.0" r="4.5" fill-opacity="0.45"/><circle cx="666.6" cy="2525.2" r="4.5" fill-opacity="0.45"/><circle cx="649.4" cy="2533.4" r="4.5" fill-opacity="0.45"/><circle cx="632.5" cy="2541.9" r="4.5" fill-opacity="0.45"/><circle cx="616.0" cy="2550.8" r="4.5" fill-opacity="0.45"/><circle cx="600.0" cy="2560.0" r="4.5" fill-opacity="0.45"/><circle cx="560.0" cy="2640.0" r="4.5" fill-opacity="0.50"/><circle cx="534.9" cy="2655.4" r="4.5" fill-opacity="0.50"/><circle cx="511.3" cy="2667.6" r="4.5" fill-opacity="0.50"/><circle cx="489.2" cy="2677.3" r="4.5" fill-opacity="0.50"/><circle cx="468.8" cy="2684.8" r="4.5" fill-opacity="0.50"/><circle cx="450.4" cy="2690.7" r="4.5" fill-opacity="0.50"/><circle cx="434.1" cy="2695.6" r="4.5" fill-opacity="0.50"/><circle cx="420.0" cy="2700.0" r="4.5" fill-opacity="0.50"/><circle cx="600.0" cy="2560.0" r="4.0" fill-opacity="0.35"/><circle cx="578.2" cy="2572.9" r="4.0" fill-opacity="0.35"/><circle cx="556.4" cy="2584.5" r="4.0" fill-opacity="0.35"/><circle cx="534.5" cy="2595.0" r="4.0" fill-opacity="0.35"/><circle cx="512.7" cy="2604.6" r="4.0" fill-opacity="0.35"/><circle cx="490.9" cy="2613.3" r="4.0" fill-opacity="0.35"/><circle cx="469.1" cy="2621.5" r="4.0" fill-opacity="0.35"/><circle cx="447.3" cy="2629.3" r="4.0" fill-opacity="0.35"/><circle cx="425.5" cy="2636.9" r="4.0" fill-opacity="0.35"/><circle cx="403.6" cy="2644.4" r="4.0" fill-opacity="0.35"/><circle cx="381.8" cy="2652.0" r="4.0" fill-opacity="0.35"/><circle cx="360.0" cy="2660.0" r="4.0" fill-opacity="0.35"/><circle cx="780.0" cy="2480.0" r="3.5" fill-opacity="0.30"/><circle cx="754.5" cy="2445.5" r="3.5" fill-opacity="0.30"/><circle cx="730.1" cy="2413.8" r="3.5" fill-opacity="0.30"/><circle cx="706.6" cy="2385.0" r="3.5" fill-opacity="0.30"/><circle cx="684.0" cy="2358.9" r="3.5" fill-opacity="0.30"/><circle cx="662.2" cy="2335.6" r="3.5" fill-opacity="0.30"/><circle cx="641.3" cy="2314.9" r="3.5" fill-opacity="0.30"/><circle cx="621.1" cy="2296.8" r="3.5" fill-opacity="0.30"/><circle cx="601.6" cy="2281.3" r="3.5" fill-opacity="0.30"/><circle cx="582.7" cy="2268.3" r="3.5" fill-opacity="0.30"/><circle cx="564.4" cy="2257.8" r="3.5" fill-opacity="0.30"/><circle cx="546.7" cy="2249.6" r="3.5" fill-opacity="0.30"/><circle cx="529.4" cy="2243.8" r="3.5" fill-opacity="0.30"/><circle cx="512.6" cy="2240.3" r="3.5" fill-opacity="0.30"/><circle cx="496.1" cy="2239.1" r="3.5" fill-opacity="0.30"/><circle cx="480.0" cy="2240.0" r="3.5" fill-opacity="0.30"/><circle cx="460.0" cy="2560.0" r="4.0" fill-opacity="0.30"/><circle cx="497.2" cy="2590.3" r="4.0" fill-opacity="0.30"/><circle cx="532.2" cy="2616.1" r="4.0" fill-opacity="0.30"/><circle cx="564.8" cy="2637.9" r="4.0" fill-opacity="0.30"/><circle cx="594.9" cy="2656.0" r="4.0" fill-opacity="0.30"/><circle cx="622.4" cy="2671.0" r="4.0" fill-opacity="0.30"/><circle cx="646.9" cy="2683.3" r="4.0" fill-opacity="0.30"/><circle cx="668.4" cy="2693.4" r="4.0" fill-opacity="0.30"/><circle cx="686.6" cy="2701.6" r="4.0" fill-opacity="0.30"/><circle cx="701.4" cy="2708.5" r="4.0" fill-opacity="0.30"/><circle cx="712.6" cy="2714.5" r="4.0" fill-opacity="0.30"/><circle cx="720.0" cy="2720.0" r="4.0" fill-opacity="0.30"/><circle cx="148.5" cy="2932.0" r="5.0" fill-opacity="0.45"/><circle cx="174.0" cy="2942.0" r="5.0" fill-opacity="0.45"/><circle cx="198.6" cy="2950.6" r="5.0" fill-opacity="0.45"/><circle cx="221.6" cy="2961.0" r="5.0" fill-opacity="0.45"/><circle cx="276.0" cy="2927.5" r="5.0" fill-opacity="0.45"/><circle cx="296.5" cy="2936.0" r="5.0" fill-opacity="0.45"/><circle cx="316.6" cy="2943.7" r="5.0" fill-opacity="0.45"/><circle cx="335.0" cy="2950.6" r="5.0" fill-opacity="0.45"/><circle cx="357.0" cy="2956.0" r="5.0" fill-opacity="0.45"/><circle cx="446.0" cy="2684.6" r="5.0" fill-opacity="0.45"/><circle cx="466.0" cy="2688.6" r="5.0" fill-opacity="0.45"/><circle cx="483.6" cy="2691.5" r="5.0" fill-opacity="0.45"/><circle cx="500.9" cy="2694.0" r="5.0" fill-opacity="0.45"/><circle cx="521.0" cy="2694.0" r="5.0" fill-opacity="0.45"/><circle cx="538.0" cy="2692.7" r="5.0" fill-opacity="0.45"/><circle cx="430.0" cy="2700.0" r="5.0" fill-opacity="0.45"/><circle cx="412.0" cy="2712.0" r="5.0" fill-opacity="0.45"/><circle cx="395.0" cy="2725.0" r="5.0" fill-opacity="0.45"/></g><g fill="#fff" fill-opacity="0.9"><circle cx="952.9" cy="617.2" r="11.6"/><circle cx="1019" cy="618" r="16"/><circle cx="982" cy="651" r="11.6"/><circle cx="910.6" cy="650" r="7.4"/><circle cx="942" cy="686" r="9"/><circle cx="1015" cy="681.8" r="7"/><circle cx="1050" cy="644.7" r="5.3"/><circle cx="1081" cy="672" r="10.6"/><circle cx="1051" cy="710" r="8.5"/><circle cx="978" cy="720" r="6.3"/><circle cx="1086" cy="735.8" r="8.5"/><circle cx="1115.5" cy="696" r="10.6"/><circle cx="1110" cy="638" r="7"/><circle cx="1134.5" cy="607.6" r="7.4"/><circle cx="1141" cy="659.5" r="8.5"/><circle cx="1164.7" cy="626" r="9.5"/><circle cx="1174" cy="679" r="7.4"/><circle cx="1188.5" cy="734.7" r="9"/><circle cx="1193.8" cy="643.6" r="7"/><circle cx="1208" cy="695" r="12.7"/><circle cx="1213" cy="612" r="6.4"/><circle cx="1225.6" cy="659.5" r="13"/><circle cx="1243" cy="709.8" r="11"/><circle cx="1259" cy="671" r="11.6"/><circle cx="1273" cy="638" r="7"/><circle cx="1285" cy="605" r="8.5"/><circle cx="1279.6" cy="721.5" r="9.5"/><circle cx="1303" cy="647" r="6.4"/><circle cx="1314" cy="613" r="4.8"/><circle cx="1326" cy="689.7" r="7"/><circle cx="1335" cy="654" r="6.4"/><circle cx="1342.6" cy="619.8" r="9.5"/><circle cx="1367" cy="658" r="14.8"/><circle cx="1361" cy="695.5" r="11.6"/><circle cx="1354" cy="735.8" r="6.4"/><circle cx="1372" cy="624.6" r="5.3"/><circle cx="1396" cy="698.7" r="9"/><circle cx="1399" cy="660.6" r="6.4"/><circle cx="1402" cy="626.7" r="4.2"/><circle cx="1431" cy="626" r="12.2"/><circle cx="1431" cy="660.6" r="5.8"/><circle cx="1431" cy="698.7" r="6.4"/><circle cx="1462.7" cy="658.5" r="6.4"/><circle cx="1461" cy="623.5" r="4.8"/><circle cx="1468" cy="737" r="7.4"/><circle cx="1489" cy="619" r="7"/><circle cx="1495.5" cy="654" r="5.3"/><circle cx="1500" cy="691" r="7.4"/><circle cx="1519" cy="613" r="5.8"/><circle cx="1526" cy="646" r="5.8"/><circle cx="1534" cy="683" r="10.6"/><circle cx="1547" cy="603" r="8"/><circle cx="1556" cy="636.8" r="6.4"/><circle cx="1568" cy="673.8" r="5.8"/><circle cx="1579.7" cy="713.5" r="5.3"/><circle cx="1587" cy="625.6" r="5.3"/><circle cx="1616" cy="612" r="7"/><circle cx="1632" cy="645.8" r="4.8"/><circle cx="1644" cy="596" r="6.4"/><circle cx="1627" cy="566" r="7.4"/><circle cx="1470.7" cy="781" r="8"/><circle cx="1388" cy="784" r="7"/><circle cx="1305.5" cy="774" r="6.4"/><circle cx="1165.7" cy="778" r="8"/><circle cx="1207" cy="796.6" r="6.4"/><circle cx="1126" cy="759.6" r="4.8"/><circle cx="1054.6" cy="778.6" r="6.4"/><circle cx="1250" cy="810" r="4.2"/><circle cx="1266" cy="763.8" r="3.7"/><circle cx="1429" cy="784.5" r="3.7"/><circle cx="1391" cy="739" r="4.2"/><circle cx="1430" cy="739.5" r="3.2"/><circle cx="1505.6" cy="732" r="3.2"/><circle cx="1015" cy="751.6" r="3.2"/><circle cx="1293" cy="682.8" r="4.2"/><circle cx="1317" cy="729" r="6.4"/><circle cx="795" cy="6" r="7"/><circle cx="843.5" cy="26" r="6"/><circle cx="780" cy="52" r="5.5"/><circle cx="830" cy="68" r="4"/><circle cx="762" cy="149" r="4.5"/><circle cx="813" cy="157" r="5"/><circle cx="861" cy="165" r="7"/><circle cx="757" cy="197" r="8.5"/><circle cx="810" cy="202" r="5.5"/><circle cx="858" cy="206" r="7"/><circle cx="757" cy="246" r="6.5"/><circle cx="810" cy="246.5" r="9"/><circle cx="858" cy="248" r="5.5"/><circle cx="813" cy="291" r="7"/><circle cx="1075" cy="26.5" r="5"/><circle cx="1058" cy="50.5" r="3.5"/></g><g fill="#fff" fill-opacity="0.5"><circle cx="766" cy="342" r="12"/><circle cx="812" cy="290" r="7"/><circle cx="876" cy="369" r="6"/><circle cx="919.5" cy="360.7" r="7"/><circle cx="903" cy="447.7" r="9"/><circle cx="857" cy="462" r="7"/><circle cx="961" cy="466" r="11"/><circle cx="998" cy="449" r="5"/><circle cx="1048" cy="462" r="4"/><circle cx="1064" cy="487" r="5"/><circle cx="830" cy="526" r="9"/><circle cx="901" cy="543" r="14"/><circle cx="940" cy="520" r="10"/><circle cx="1002" cy="530.5" r="7"/><circle cx="1087" cy="512" r="5"/><circle cx="1133" cy="514" r="6"/><circle cx="1155.5" cy="533" r="5"/><circle cx="882" cy="609" r="10"/><circle cx="791" cy="437" r="9"/><circle cx="965" cy="383.5" r="8"/></g></svg>
<svg class="abs" width="1667" height="2963" style="left:0;top:0"><line x1="89" y1="1893.5" x2="1584" y2="1893.5" stroke="#6a6a6a" stroke-width="1.6" stroke-dasharray="8.3 8.3"/><line x1="90.5" y1="1255.3" x2="95" y2="1255.3" stroke="#777" stroke-width="1.4"/><line x1="1580" y1="1255.3" x2="1584" y2="1255.3" stroke="#777" stroke-width="1.4"/></svg>
<div class="t" style="left:86.42px;top:36.30px;font-family:'Liberation Sans', sans-serif;font-weight:700;font-size:114.53px;line-height:114.53px;color:#000;transform:scaleX(0.9477);-webkit-text-stroke:3.5px #000;">Pesquisa Quaest Fortaleza</div>
<div class="t" style="left:86.94px;top:182.90px;font-family:'Liberation Sans', sans-serif;font-weight:400;font-size:72.53px;line-height:72.53px;color:#000;transform:scaleX(0.9368);-webkit-text-stroke:2.8px #000;">SEGUNDO TURNO</div>
<div class="t" style="left:86.95px;top:280.45px;font-family:'Liberation Sans', sans-serif;font-weight:700;font-size:72.24px;line-height:72.24px;color:#000;transform:scaleX(0.8710);">Intenção de voto para Prefeito</div>
<div class="t" style="left:86.86px;top:365.26px;font-family:'Liberation Sans', sans-serif;font-weight:700;font-size:72.82px;line-height:72.82px;color:#000;transform:scaleX(0.8619);">Estimulada | Time de futebol no Ceará</div>
<div class="t" style="left:86.40px;top:453.37px;font-family:'Liberation Sans', sans-serif;font-weight:400;font-size:68.31px;line-height:68.31px;color:#404040;transform:scaleX(0.8790);">Se a eleição de segundo turno para</div>
<div class="t" style="left:86.05px;top:533.47px;font-family:'Liberation Sans', sans-serif;font-weight:400;font-size:68.31px;line-height:68.31px;color:#404040;transform:scaleX(0.8905);">prefeito fosse hoje, em quem você votaria?</div>
<div class="hbox" style="top:664.8px;height:78.0px;"></div>
<div class="t" style="left:91.67px;top:665.82px;font-family:'Liberation Sans', sans-serif;font-weight:700;font-size:66.13px;line-height:66.13px;color:#000;transform:scaleX(0.8822);-webkit-text-stroke:2px #000;">Ceará</div>
<div class="t" style="left:271.15px;top:680.35px;font-family:'Liberation Sans', sans-serif;font-weight:400;font-size:50.15px;line-height:50.15px;color:#2a2a2a;transform:scaleX(0.9102);">(ME=6 pp)</div>
<div class="bar" style="top:790.4px;height:75.3px;width:529.7px;"></div>
<div class="t" style="left:1072.55px;top:786.88px;font-family:'Liberation Sans', sans-serif;font-weight:400;font-size:72.67px;line-height:72.67px;color:#6e6e6e;transform:scaleX(0.8879);">41%</div>
<div class="t" style="left:101.92px;top:798.88px;font-family:'Liberation Sans', sans-serif;font-weight:400;font-size:52.18px;line-height:52.18px;color:#000;transform:scaleX(0.9966);-webkit-text-stroke:2.1px #000;">André Fernandes</div>
<div class="bar" style="top:889.0px;height:75.3px;width:646.0px;"></div>
<div class="t" style="left:1182.96px;top:885.48px;font-family:'Liberation Sans', sans-serif;font-weight:400;font-size:72.67px;line-height:72.67px;color:#6e6e6e;transform:scaleX(0.8745);">50%</div>
<div class="t" style="left:153.45px;top:897.48px;font-family:'Liberation Sans', sans-serif;font-weight:400;font-size:52.18px;line-height:52.18px;color:#000;transform:scaleX(0.9991);-webkit-text-stroke:2.1px #000;">Evandro Leitão</div>
<div class="bar" style="top:986.8px;height:75.3px;width:38.8px;"></div>
<div class="t" style="left:576.67px;top:983.28px;font-family:'Liberation Sans', sans-serif;font-weight:400;font-size:72.67px;line-height:72.67px;color:#6e6e6e;transform:scaleX(0.8562);">3%</div>
<div class="t" style="left:274.03px;top:995.28px;font-family:'Liberation Sans', sans-serif;font-weight:400;font-size:52.18px;line-height:52.18px;color:#000;transform:scaleX(1.0392);-webkit-text-stroke:2.1px #000;">Indecisos</div>
<div class="bar" style="top:1108.0px;height:75.3px;width:77.5px;"></div>
<div class="t" style="left:613.39px;top:1104.48px;font-family:'Liberation Sans', sans-serif;font-weight:400;font-size:72.67px;line-height:72.67px;color:#6e6e6e;transform:scaleX(0.8549);">6%</div>
<div class="t" style="left:153.48px;top:1082.78px;font-family:'Liberation Sans', sans-serif;font-weight:400;font-size:52.18px;line-height:52.18px;color:#000;transform:scaleX(1.0150);-webkit-text-stroke:2.1px #000;">Branco / nulo /</div>
<div class="t" style="left:192.72px;top:1146.78px;font-family:'Liberation Sans', sans-serif;font-weight:400;font-size:52.18px;line-height:52.18px;color:#000;transform:scaleX(1.0060);-webkit-text-stroke:2.1px #000;">Não vai votar</div>
<div class="hbox" style="top:1301.2px;height:77.0px;"></div>
<div class="t" style="left:89.95px;top:1302.22px;font-family:'Liberation Sans', sans-serif;font-weight:700;font-size:66.13px;line-height:66.13px;color:#000;transform:scaleX(0.9073);-webkit-text-stroke:2px #000;">Fortaleza</div>
<div class="t" style="left:371.83px;top:1316.75px;font-family:'Liberation Sans', sans-serif;font-weight:400;font-size:50.15px;line-height:50.15px;color:#2a2a2a;transform:scaleX(0.9172);">(ME=6 pp)</div>
<div class="bar" style="top:1427.2px;height:75.3px;width:620.2px;"></div>
<div class="t" style="left:1159.35px;top:1423.68px;font-family:'Liberation Sans', sans-serif;font-weight:400;font-size:72.67px;line-height:72.67px;color:#6e6e6e;transform:scaleX(0.8893);">48%</div>
<div class="t" style="left:101.92px;top:1435.68px;font-family:'Liberation Sans', sans-serif;font-weight:400;font-size:52.18px;line-height:52.18px;color:#000;transform:scaleX(0.9966);-webkit-text-stroke:2.1px #000;">André Fernandes</div>
<div class="bar" style="top:1525.6px;height:75.3px;width:529.7px;"></div>
<div class="t" style="left:1072.55px;top:1522.08px;font-family:'Liberation Sans', sans-serif;font-weight:400;font-size:72.67px;line-height:72.67px;color:#6e6e6e;transform:scaleX(0.8879);">41%</div>
<div class="t" style="left:153.45px;top:1534.08px;font-family:'Liberation Sans', sans-serif;font-weight:400;font-size:52.18px;line-height:52.18px;color:#000;transform:scaleX(0.9991);-webkit-text-stroke:2.1px #000;">Evandro Leitão</div>
<div class="bar" style="top:1624.7px;height:75.3px;width:25.8px;"></div>
<div class="t" style="left:562.88px;top:1621.18px;font-family:'Liberation Sans', sans-serif;font-weight:400;font-size:72.67px;line-height:72.67px;color:#6e6e6e;transform:scaleX(0.8600);">2%</div>
<div class="t" style="left:274.03px;top:1633.18px;font-family:'Liberation Sans', sans-serif;font-weight:400;font-size:52.18px;line-height:52.18px;color:#000;transform:scaleX(1.0392);-webkit-text-stroke:2.1px #000;">Indecisos</div>
<div class="bar" style="top:1747.0px;height:75.3px;width:116.3px;"></div>
<div class="t" style="left:654.00px;top:1743.48px;font-family:'Liberation Sans', sans-serif;font-weight:400;font-size:72.67px;line-height:72.67px;color:#6e6e6e;transform:scaleX(0.8685);">9%</div>
<div class="t" style="left:153.48px;top:1721.78px;font-family:'Liberation Sans', sans-serif;font-weight:400;font-size:52.18px;line-height:52.18px;color:#000;transform:scaleX(1.0150);-webkit-text-stroke:2.1px #000;">Branco / nulo /</div>
<div class="t" style="left:192.72px;top:1785.78px;font-family:'Liberation Sans', sans-serif;font-weight:400;font-size:52.18px;line-height:52.18px;color:#000;transform:scaleX(1.0060);-webkit-text-stroke:2.1px #000;">Não vai votar</div>
<div class="hbox" style="top:1939.8px;height:77.2px;"></div>
<div class="t" style="left:90.00px;top:1940.82px;font-family:'Liberation Sans', sans-serif;font-weight:700;font-size:66.13px;line-height:66.13px;color:#000;transform:scaleX(0.8957);-webkit-text-stroke:2px #000;">Não torce para nenhum</div>
<div class="t" style="left:767.13px;top:1955.35px;font-family:'Liberation Sans', sans-serif;font-weight:400;font-size:50.15px;line-height:50.15px;color:#2a2a2a;transform:scaleX(0.9159);">(ME=6 pp)</div>
<div class="bar" style="top:2066.6px;height:75.3px;width:529.7px;"></div>
<div class="t" style="left:1072.55px;top:2063.08px;font-family:'Liberation Sans', sans-serif;font-weight:400;font-size:72.67px;line-height:72.67px;color:#6e6e6e;transform:scaleX(0.8879);">41%</div>
<div class="t" style="left:101.92px;top:2075.08px;font-family:'Liberation Sans', sans-serif;font-weight:400;font-size:52.18px;line-height:52.18px;color:#000;transform:scaleX(0.9966);-webkit-text-stroke:2.1px #000;">André Fernandes</div>
<div class="bar" style="top:2164.5px;height:75.3px;width:478.0px;"></div>
<div class="t" style="left:1014.06px;top:2160.98px;font-family:'Liberation Sans', sans-serif;font-weight:400;font-size:72.67px;line-height:72.67px;color:#6e6e6e;transform:scaleX(0.8948);">37%</div>
<div class="t" style="left:153.45px;top:2172.98px;font-family:'Liberation Sans', sans-serif;font-weight:400;font-size:52.18px;line-height:52.18px;color:#000;transform:scaleX(0.9991);-webkit-text-stroke:2.1px #000;">Evandro Leitão</div>
<div class="bar" style="top:2263.5px;height:75.3px;width:77.5px;"></div>
<div class="t" style="left:613.39px;top:2259.98px;font-family:'Liberation Sans', sans-serif;font-weight:400;font-size:72.67px;line-height:72.67px;color:#6e6e6e;transform:scaleX(0.8549);">6%</div>
<div class="t" style="left:274.03px;top:2271.98px;font-family:'Liberation Sans', sans-serif;font-weight:400;font-size:52.18px;line-height:52.18px;color:#000;transform:scaleX(1.0392);-webkit-text-stroke:2.1px #000;">Indecisos</div>
<div class="bar" style="top:2385.0px;height:75.3px;width:206.7px;"></div>
<div class="t" style="left:741.07px;top:2381.48px;font-family:'Liberation Sans', sans-serif;font-weight:400;font-size:72.67px;line-height:72.67px;color:#6e6e6e;transform:scaleX(0.9052);">16%</div>
<div class="t" style="left:153.48px;top:2359.78px;font-family:'Liberation Sans', sans-serif;font-weight:400;font-size:52.18px;line-height:52.18px;color:#000;transform:scaleX(1.0150);-webkit-text-stroke:2.1px #000;">Branco / nulo /</div>
<div class="t" style="left:192.72px;top:2423.78px;font-family:'Liberation Sans', sans-serif;font-weight:400;font-size:52.18px;line-height:52.18px;color:#000;transform:scaleX(1.0060);-webkit-text-stroke:2.1px #000;">Não vai votar</div>
<svg class="abs" width="1667" height="2963" viewBox="0 0 1667 2963" style="left:0;top:0">
<path d="M1292.8,196.9 H1517 A72,72 0 0 1 1589.1,269 V494 H1312.8 A20,20 0 0 1 1292.8,474 Z" fill="#000"/>
<circle cx="1332.4" cy="455" r="20" fill="#fff"/>
<path fill="#fff" fill-rule="evenodd" d="M1387.5,216.7 H1499 C1546,216.7 1573.2,246 1573.2,289 C1573.2,334 1546,367.8 1499,367.8 H1450.6 V451 C1451,465 1462,470 1480,471 V475.2 H1381 V471 C1399,470 1410,465 1410.3,451 V232 C1410,223 1401,221 1387.5,220.5 Z
M1450.5,219.6 H1489 C1515,219.6 1528.7,250 1528.7,291 C1528.7,333 1515,363.2 1489,363.2 H1450.5 Z"/>
<g fill="#049c83" fill-rule="evenodd">
<path d="M1155.5,2719 H1207 C1243,2719 1265.9,2746 1265.9,2780.7 C1265.9,2816 1243,2842.4 1207,2842.4 H1155.5 Z M1182.4,2742.4 H1204 C1226,2742.4 1239,2758 1239,2781 C1239,2804 1226,2819.7 1204,2819.7 H1182.4 Z"/>
<rect x="1277" y="2719" width="27.6" height="16.2"/>
<rect x="1277" y="2746" width="27.6" height="96.4"/>
<rect x="1347.8" y="2719.3" width="27.1" height="16.2"/>
<path d="M1316,2762 C1328,2751 1341,2746 1358,2746 C1385,2746 1398.8,2760 1398.8,2784 V2842.3 H1375.2 V2833 C1368,2841 1357,2844.8 1343,2844.8 C1326,2844.8 1315.5,2833 1315.5,2818 C1315.5,2802 1326,2793 1345,2787 L1375.2,2778 V2775 C1375.2,2766 1369,2761.5 1358,2761.5 C1347,2761.5 1337,2766 1328.6,2778.3 Z
M1375.2,2796 L1352,2803.5 C1345,2806 1341.8,2810 1341.8,2814.5 C1341.8,2820.5 1346,2825 1353,2825 C1362,2825 1370,2820 1375.2,2813 Z"/>
<path d="M1410.3,2746 H1437.3 V2759 C1444,2750 1454,2746.6 1469,2746.6 V2770.9 C1450,2770.9 1437.3,2782 1437.3,2806 V2842.3 H1410.3 Z"/>
<rect x="1479.6" y="2718.8" width="27.4" height="16.2"/>
<rect x="1479.6" y="2746.3" width="27.4" height="96.4"/>
<path d="M1565.4,2745.8 A47.6,49.3 0 1 1 1565.4,2844.4 A47.6,49.3 0 1 1 1565.4,2745.8 Z M1565.5,2767.3 A20.9,27.85 0 1 0 1565.5,2823 A20.9,27.85 0 1 0 1565.5,2767.3 Z"/>
</g>
</svg>
<div class="t" style="left:1288.15px;top:513.28px;font-family:'Liberation Serif', serif;font-weight:400;font-size:61.63px;line-height:61.63px;color:#000;transform:scaleX(1.0318);-webkit-text-stroke:2.2px #000;">ELEIÇÕES</div>
<div class="t" style="left:1155.41px;top:2844.10px;font-family:'Liberation Sans', sans-serif;font-weight:700;font-size:63.08px;line-height:63.08px;color:#049c83;transform:scaleX(0.9864);-webkit-text-stroke:2.6px #049c83;">do Nordeste</div>
<div class="t" style="left:58.14px;top:2715.16px;font-family:'Liberation Sans', sans-serif;font-weight:400;font-size:30.52px;line-height:30.52px;color:#1e1e1e;transform:scaleX(0.9353);">Pesquisa realizada entre os dias 15/10/24 e 17/10/2024. A pesquisa foi</div>
<div class="t" style="left:59.33px;top:2748.16px;font-family:'Liberation Sans', sans-serif;font-weight:400;font-size:30.52px;line-height:30.52px;color:#1e1e1e;transform:scaleX(0.9055);">encomendada pela TV Verdes Mares e registrada no Tribunal Superior Eleitoral (TSE)</div>
<div class="t" style="left:59.73px;top:2781.66px;font-family:'Liberation Sans', sans-serif;font-weight:400;font-size:30.52px;line-height:30.52px;color:#1e1e1e;transform:scaleX(0.9220);">sob protocolo nº CE-01540/2024. Foram entrevistados 900 votantes em Fortaleza</div>
<div class="t" style="left:59.31px;top:2814.66px;font-family:'Liberation Sans', sans-serif;font-weight:400;font-size:30.52px;line-height:30.52px;color:#1e1e1e;transform:scaleX(0.9158);">com idade de 16 anos ou mais. A margem de erro é de 6 pontos percentuais para</div>
<div class="t" style="left:58.62px;top:2848.16px;font-family:'Liberation Sans', sans-serif;font-weight:400;font-size:30.52px;line-height:30.52px;color:#1e1e1e;transform:scaleX(0.9137);">mais ou para menos e o nível de confiança utilizado é de 95%. A soma dos</div>
<div class="t" style="left:58.68px;top:2881.66px;font-family:'Liberation Sans', sans-serif;font-weight:400;font-size:30.52px;line-height:30.52px;color:#1e1e1e;transform:scaleX(0.9196);">percentuais pode não totalizar 100% em decorrência dos arredondamentos.</div>
</body></html>
